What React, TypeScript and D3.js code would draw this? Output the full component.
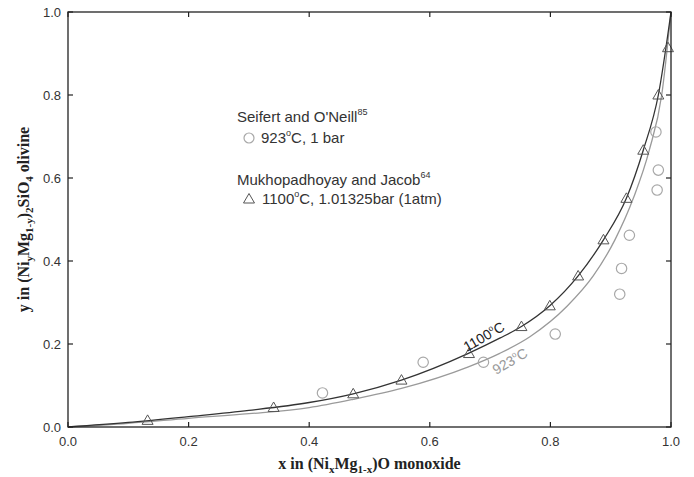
import React from "react";
import * as d3 from "d3";

const xTicks = [0, 0.2, 0.4, 0.6, 0.8, 1.0];
const yTicks = [0, 0.2, 0.4, 0.6, 0.8, 1.0];

// Mukhopadhyay and Jacob, 1100°C (triangles)
const triX = [0.132, 0.341, 0.473, 0.553, 0.665, 0.752, 0.799, 0.846, 0.888, 0.926, 0.954, 0.979, 0.995];
const triY = [0.016, 0.047, 0.080, 0.113, 0.177, 0.242, 0.292, 0.364, 0.451, 0.551, 0.667, 0.800, 0.914];

// Seifert and O'Neill, 923°C (circles)
const cirX = [0.422, 0.589, 0.689, 0.808, 0.915, 0.918, 0.931, 0.977, 0.979, 0.975];
const cirY = [0.082, 0.156, 0.156, 0.224, 0.320, 0.382, 0.462, 0.571, 0.619, 0.711];

// Model curves
const c1100X = [0, 0.1, 0.2, 0.3, 0.4, 0.473, 0.553, 0.664, 0.716, 0.752, 0.799, 0.846, 0.888, 0.926, 0.954, 0.979, 1.0];
const c1100Y = [0, 0.011, 0.025, 0.040, 0.059, 0.080, 0.113, 0.1775, 0.214, 0.242, 0.292, 0.364, 0.451, 0.551, 0.667, 0.800, 1.0];
const c923X = [0, 0.1, 0.2, 0.3, 0.4, 0.473, 0.553, 0.664, 0.716, 0.766, 0.828, 0.871, 0.907, 0.9375, 0.964, 0.9846, 1.0];
const c923Y = [0, 0.009, 0.021, 0.032, 0.0466, 0.0667, 0.093, 0.145, 0.1775, 0.2176, 0.2916, 0.364, 0.451, 0.551, 0.667, 0.800, 1.0];

const W = 694;
const H = 477;
const X0 = 68, X1 = 671, Y0 = 427, Y1 = 12;

export default function App() {
  const x = d3.scaleLinear().domain([0, 1]).range([X0, X1]);
  const y = d3.scaleLinear().domain([0, 1]).range([Y0, Y1]);
  const line = d3
    .line<[number, number]>()
    .x((d) => x(d[0]))
    .y((d) => y(d[1]))
    .curve(d3.curveMonotoneX);
  const p1100 = line(c1100X.map((v, i) => [v, c1100Y[i]]) as [number, number][]) || "";
  const p923 = line(c923X.map((v, i) => [v, c923Y[i]]) as [number, number][]) || "";
  const tri = (cx: number, cy: number) =>
    `M${cx - 5.5},${cy + 4}L${cx + 5.5},${cy + 4}L${cx},${cy - 5.5}Z`;
  const tickLen = 5;
  const sans = "'Liberation Sans', Arial, sans-serif";
  const serif = "'Liberation Serif', 'Times New Roman', serif";
  const axisCol = "#222";
  const dark = "#333";
  const light = "#a8a8a8";

  return (
    <svg width={W} height={H} style={{ position: "absolute", left: 0, top: 0, background: "#fff" }}>
      {/* curves */}
      <path d={p923} fill="none" stroke="#9a9a9a" strokeWidth={1.3} />
      <path d={p1100} fill="none" stroke="#333" strokeWidth={1.3} />

      {/* circles */}
      {cirX.map((v, i) => (
        <circle key={"c" + i} cx={x(v)} cy={y(cirY[i])} r={5.2} fill="none" stroke={light} strokeWidth={1.2} />
      ))}
      {/* triangles */}
      {triX.map((v, i) => (
        <path key={"t" + i} d={tri(x(v), y(triY[i]))} fill="none" stroke="#555" strokeWidth={1} />
      ))}

      {/* frame */}
      <rect x={X0} y={Y1} width={X1 - X0} height={Y0 - Y1} fill="none" stroke={axisCol} strokeWidth={1.3} />
      {xTicks.map((t) => (
        <g key={"xt" + t}>
          <line x1={x(t)} x2={x(t)} y1={Y0} y2={Y0 - tickLen} stroke={axisCol} strokeWidth={1.2} />
          <line x1={x(t)} x2={x(t)} y1={Y1} y2={Y1 + tickLen} stroke={axisCol} strokeWidth={1.2} />
          <text x={x(t)} y={446} textAnchor="middle" fontFamily={sans} fontSize={13} fill={dark}>
            {t.toFixed(1)}
          </text>
        </g>
      ))}
      {yTicks.map((t) => (
        <g key={"yt" + t}>
          <line x1={X0} x2={X0 + tickLen} y1={y(t)} y2={y(t)} stroke={axisCol} strokeWidth={1.2} />
          <line x1={X1} x2={X1 - tickLen} y1={y(t)} y2={y(t)} stroke={axisCol} strokeWidth={1.2} />
          <text x={61} y={y(t) + 4.5} textAnchor="end" fontFamily={sans} fontSize={13} fill={dark}>
            {t.toFixed(1)}
          </text>
        </g>
      ))}

      {/* axis titles */}
      <text x={(X0 + X1) / 2} y={469} textAnchor="middle" fontFamily={serif} fontSize={16} fontWeight="bold" fill="#222">
        x in (Ni<tspan fontSize={11} dy={4}>x</tspan>
        <tspan dy={-4}>Mg</tspan>
        <tspan fontSize={11} dy={4}>1-x</tspan>
        <tspan dy={-4}>)O monoxide</tspan>
      </text>
      <text
        transform={`translate(29,${(Y0 + Y1) / 2}) rotate(-90)`}
        textAnchor="middle"
        fontFamily={serif}
        fontSize={16}
        fontWeight="bold"
        fill="#222"
      >
        y in (Ni<tspan fontSize={11} dy={4}>y</tspan>
        <tspan dy={-4}>Mg</tspan>
        <tspan fontSize={11} dy={4}>1-y</tspan>
        <tspan dy={-4}>)</tspan>
        <tspan fontSize={11} dy={4}>2</tspan>
        <tspan dy={-4}>SiO</tspan>
        <tspan fontSize={11} dy={4}>4</tspan>
        <tspan dy={-4}> olivine</tspan>
      </text>

      {/* legend */}
      <g fontFamily={sans} fill={dark}>
        <text x={237} y={122} fontSize={15}>
          Seifert and O'Neill<tspan fontSize={9} dy={-7}>85</tspan>
        </text>
        <circle cx={249} cy={138} r={5} fill="none" stroke={light} strokeWidth={1.2} />
        <text x={261} y={143} fontSize={15}>
          923<tspan fontSize={9} dy={-7}>o</tspan>
          <tspan dy={7}>C, 1 bar</tspan>
        </text>
        <text x={237} y={185} fontSize={15}>
          Mukhopadhoyay and Jacob<tspan fontSize={9} dy={-7}>64</tspan>
        </text>
        <path d={tri(249, 199)} fill="none" stroke="#555" strokeWidth={1} />
        <text x={262} y={204} fontSize={15}>
          1100<tspan fontSize={9} dy={-7}>o</tspan>
          <tspan dy={7}>C, 1.01325bar (1atm)</tspan>
        </text>
      </g>

      {/* curve labels */}
      <text transform="translate(467,352) rotate(-30)" fontFamily={sans} fontSize={14} fill="#222">
        1100<tspan fontSize={8} dy={-6}>o</tspan>
        <tspan dy={6}>C</tspan>
      </text>
      <text transform="translate(496,375) rotate(-30)" fontFamily={sans} fontSize={14} fill="#999">
        923<tspan fontSize={8} dy={-6}>o</tspan>
        <tspan dy={6}>C</tspan>
      </text>
    </svg>
  );
}
